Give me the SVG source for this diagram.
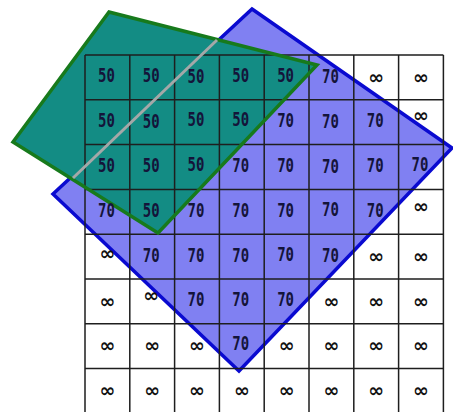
<svg xmlns="http://www.w3.org/2000/svg" width="453" height="412" viewBox="0 0 453 412">
<style>
.t{font-family:"DejaVu Sans Mono",monospace;font-weight:bold;font-size:14px;fill:#14143a;text-anchor:middle}
.i{font-family:"DejaVu Sans",sans-serif;font-weight:bold;font-size:19px;fill:#111111;text-anchor:middle}
.g{stroke:#1e1e1e;stroke-width:1.5;fill:none}
</style>
<rect width="453" height="412" fill="#ffffff"/>
<g id="blue-region">
<polygon points="252,9 452,148 239,371 53,194" fill="#8080f2" stroke="#0a0ad0" stroke-width="3.5" stroke-linejoin="miter"/>
</g>
<g id="green-fill">
<polygon points="109,12 317,65 158,233 13,142" fill="#138c84"/>
</g>
<g id="grid" class="g">
<path d="M85,55V413M129.8,55V413M174.6,55V413M219.4,55V413M264.2,55V413M309,55V413M353.8,55V413M398.6,55V413M443.4,55V413"/>
<path d="M85,55H443.4M85,99.8H443.4M85,144.6H443.4M85,189.4H443.4M85,234.2H443.4M85,279H443.4M85,323.8H443.4M85,368.6H443.4"/>
</g>
<g id="green-region">
<polygon points="109,12 317,65 158,233 13,142" fill="none" stroke="#177a1c" stroke-width="3.5"/>
<line x1="217" y1="40" x2="73" y2="178" stroke="#a4a8a8" stroke-width="3"/>
</g>
<g id="numbers" class="t" transform="scale(1,1.37)">
<text x="106.4" y="60.22">50</text><text x="151.2" y="60.22">50</text><text x="196" y="60.9">50</text><text x="240.8" y="60.22">50</text><text x="285.6" y="60.22">50</text><text x="330.4" y="60.9">70</text>
<text x="106.4" y="92.92">50</text><text x="151.2" y="93.6">50</text><text x="196" y="92.3">50</text><text x="240.8" y="92.3">50</text><text x="285.6" y="92.92">70</text><text x="330.4" y="93.3">70</text><text x="375.2" y="92.92">70</text>
<text x="106.4" y="125.62">50</text><text x="151.2" y="125.62">50</text><text x="196" y="125">50</text><text x="240.8" y="125.62">70</text><text x="285.6" y="125.62">70</text><text x="330.4" y="126.2">70</text><text x="375.2" y="125.3">70</text><text x="420" y="125">70</text>
<text x="106.4" y="158.32">70</text><text x="151.2" y="158.32">50</text><text x="196" y="158.32">70</text><text x="240.8" y="158.32">70</text><text x="285.6" y="158.32">70</text><text x="330.4" y="157.6">70</text><text x="375.2" y="158.32">70</text>
<text x="151.2" y="191.02">70</text><text x="196" y="191.02">70</text><text x="240.8" y="191.02">70</text><text x="285.6" y="190.3">70</text><text x="330.4" y="191.4">70</text>
<text x="196" y="223.72">70</text><text x="240.8" y="223.72">70</text><text x="285.6" y="223.3">70</text>
<text x="240.8" y="255.3">70</text>
</g>
<g id="infinities" class="i">
<text x="376.2" y="83.5">∞</text><text x="421" y="83.5">∞</text>
<text x="421" y="122">∞</text>
<text x="421" y="213">∞</text>
<text x="107.4" y="260">∞</text><text x="376.2" y="262.7">∞</text><text x="421" y="262.7">∞</text>
<text x="107.4" y="307.5">∞</text><text x="151.2" y="302">∞</text><text x="331.4" y="307.5">∞</text><text x="376.2" y="307.5">∞</text><text x="421" y="307.5">∞</text>
<text x="107.4" y="352.3">∞</text><text x="152.2" y="352.3">∞</text><text x="197" y="352.3">∞</text><text x="286.6" y="352.3">∞</text><text x="331.4" y="352.3">∞</text><text x="376.2" y="352.3">∞</text><text x="421" y="352.3">∞</text>
<text x="107.4" y="397.1">∞</text><text x="152.2" y="397.1">∞</text><text x="197" y="397.1">∞</text><text x="241.8" y="397.1">∞</text><text x="286.6" y="397.1">∞</text><text x="331.4" y="397.1">∞</text><text x="376.2" y="397.1">∞</text><text x="421" y="397.1">∞</text>
</g>
</svg>
